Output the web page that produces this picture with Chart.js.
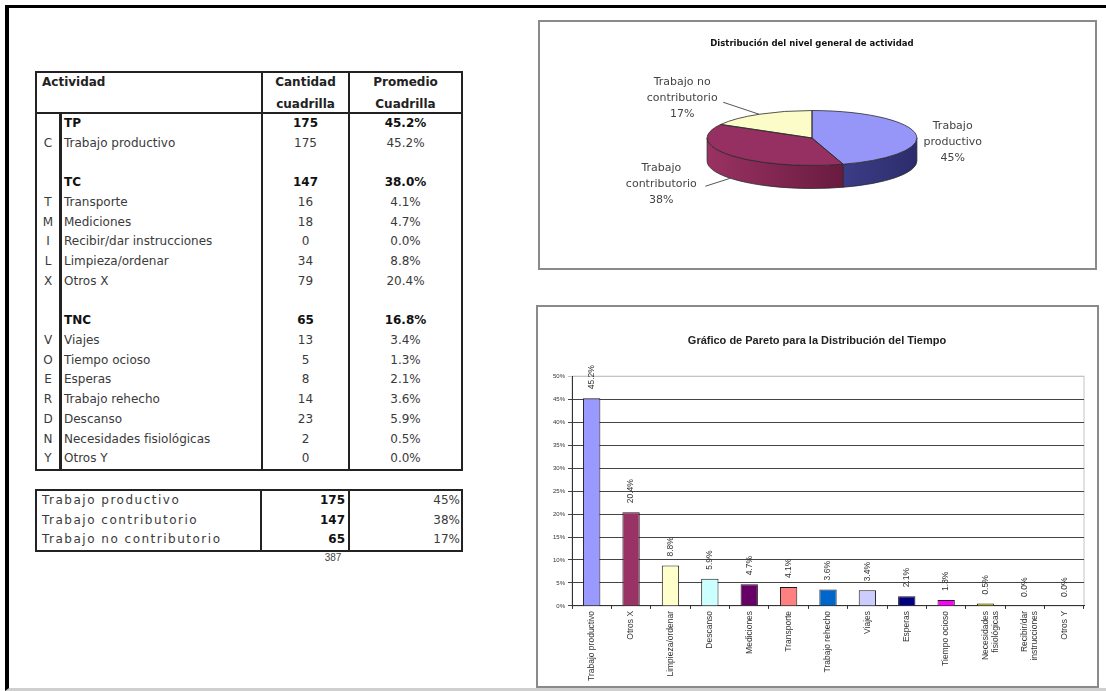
<!DOCTYPE html>
<html lang="es">
<head>
<meta charset="utf-8">
<title>Distribución del tiempo</title>
<script src="https://cdn.jsdelivr.net/npm/chart.js@4.4.1/dist/chart.umd.min.js"></script>
<style>
  html, body { margin: 0; padding: 0; background: #fff; }
  body { width: 1106px; height: 691px; position: relative; overflow: hidden;
         font-family: "DejaVu Sans", Verdana, sans-serif; font-size: 12px; color: #3a3a3a; }
  #marco { position: absolute; left: 5px; top: 5px; width: 1120px; height: 686px; box-sizing: border-box;
           border-top: 3px solid #000; border-left: 4px solid #000; border-bottom: 3px solid #cfcfcf; }
  .caja { position: absolute; box-sizing: border-box; border: 2px solid #8a8a8a; background: #fff; }
  .caja canvas { display: block; }
  .tabla { position: absolute; box-sizing: border-box; border: 2px solid #222; }
  .vl { position: absolute; width: 2px; background: #222; z-index: 2; }
  .cab { position: absolute; left: 0; top: 0; right: 0; height: 39px; border-bottom: 2px solid #222; font-weight: bold; color: #222; line-height: 22px; }
  .cab div { position: absolute; top: -2px; }
  .f { position: absolute; left: 0; right: 0; height: 19.72px; line-height: 19.72px; white-space: nowrap; }
  .f span { position: absolute; top: 0; }
  .f .l { left: 0; width: 22px; text-align: center; }
  .f .a { left: 27px; }
  .f .n { left: 226px; width: 85px; text-align: center; }
  .f .p { left: 313px; width: 111px; text-align: center; }
  .f.b { font-weight: bold; color: #111; }
  .r { position: absolute; left: 0; right: 0; height: 19.5px; line-height: 19.5px; white-space: nowrap; }
  .r span { position: absolute; top: 0; }
  .r .a { left: 5px; letter-spacing: 1.5px; }
  .r .n { left: 226px; width: 82px; text-align: right; font-weight: bold; color: #111; }
  .r .p { left: 313px; width: 110px; text-align: right; }
  #total { position: absolute; left: 318px; top: 552px; width: 30px; text-align: center;
           font: 10px "Liberation Sans", Arial, sans-serif; color: #444; }
</style>
</head>
<body>
<div id="marco"></div>

<div id="tabla" class="tabla" style="left:35px;top:71px;width:428px;height:400px">
  <div class="cab">
    <div style="left:5px">Actividad</div>
    <div style="left:226px;width:85px;text-align:center">Cantidad<br>cuadrilla</div>
    <div style="left:313px;width:111px;text-align:center">Promedio<br>Cuadrilla</div>
  </div>
  <div class="vl" style="left:22px;width:3px;top:41px;height:355px"></div>
  <div class="vl" style="left:224px;top:0;height:396px"></div>
  <div class="vl" style="left:311px;top:0;height:396px"></div>
</div>

<div id="resumen" class="tabla" style="left:35px;top:489px;width:428px;height:62.5px">
  <div class="vl" style="left:223px;top:0;height:58.5px"></div>
  <div class="vl" style="left:311px;top:0;height:58.5px"></div>
</div>
<div id="total">387</div>

<div class="caja" style="left:538px;top:20px;width:559px;height:250px">
  <canvas id="torta" width="555" height="246"></canvas>
</div>
<div class="caja" style="left:536px;top:305px;width:563px;height:383px">
  <canvas id="pareto" width="559" height="379"></canvas>
</div>

<script>
// Tabla de actividades (filas vacías = separadores)
const codigos    = ['', 'C', '', '', 'T', 'M', 'I', 'L', 'X', '', '', 'V', 'O', 'E', 'R', 'D', 'N', 'Y'];
const filas      = ['TP', 'Trabajo productivo', '', 'TC', 'Transporte', 'Mediciones', 'Recibir/dar instrucciones',
                    'Limpieza/ordenar', 'Otros X', '', 'TNC', 'Viajes', 'Tiempo ocioso', 'Esperas',
                    'Trabajo rehecho', 'Descanso', 'Necesidades fisiológicas', 'Otros Y'];
const cantidades = ['175', '175', '', '147', '16', '18', '0', '34', '79', '', '65', '13', '5', '8', '14', '23', '2', '0'];
const promedios  = ['45.2%', '45.2%', '', '38.0%', '4.1%', '4.7%', '0.0%', '8.8%', '20.4%', '', '16.8%',
                    '3.4%', '1.3%', '2.1%', '3.6%', '5.9%', '0.5%', '0.0%'];
const filasTotal = [0, 3, 10];

// Resumen
const tiposTrabajo  = ['Trabajo productivo', 'Trabajo contributorio', 'Trabajo no contributorio'];
const tiposCantidad = [175, 147, 65];
const tiposPct      = [45.2, 38.0, 16.8];

// Torta
const tortaEtiquetas = [['Trabajo', 'productivo', '45%'], ['Trabajo', 'contributorio', '38%'], ['Trabajo no', 'contributorio', '17%']];
const tortaColores   = ['#9696f8', '#962f62', '#fcfcc8'];
const tortaLaterales = [['#5a5ab8', '#2c2c6c'], ['#9a3262', '#4e0f2c'], ['#d8d8a0', '#a8a868']];

// Pareto
const actividades = ['Trabajo productivo', 'Otros X', 'Limpieza/ordenar', 'Descanso', 'Mediciones', 'Transporte',
                     'Trabajo rehecho', 'Viajes', 'Esperas', 'Tiempo ocioso', ['Necesidades', 'fisiológicas'],
                     ['Recibir/dar', 'instrucciones'], 'Otros Y'];
const porcentajes = [45.2, 20.4, 8.8, 5.9, 4.7, 4.1, 3.6, 3.4, 2.1, 1.3, 0.5, 0.0, 0.0];
const coloresBarras = ['#9999FF', '#993366', '#FFFFCC', '#CCFFFF', '#660066', '#FF8080',
                       '#0066CC', '#CCCCFF', '#000080', '#FF00FF', '#CCCC00', '#808080', '#808080'];

// 1. TABLAS
const tabla = document.getElementById('tabla');
filas.forEach((txt, i) => {
    const f = document.createElement('div');
    f.className = 'f' + (filasTotal.includes(i) ? ' b' : '');
    f.style.top = (41 + i * 19.72) + 'px';
    f.innerHTML = `<span class="l">${codigos[i]}</span><span class="a">${txt}</span>` +
                  `<span class="n">${cantidades[i]}</span><span class="p">${promedios[i]}</span>`;
    tabla.appendChild(f);
});
const resumen = document.getElementById('resumen');
tiposTrabajo.forEach((txt, i) => {
    const r = document.createElement('div');
    r.className = 'r';
    r.style.top = (i * 19.5) + 'px';
    r.innerHTML = `<span class="a">${txt}</span><span class="n">${tiposCantidad[i]}</span>` +
                  `<span class="p">${Math.round(tiposPct[i])}%</span>`;
    resumen.appendChild(r);
});

// 2. TORTA 3D (se aplana el pie de Chart.js y se le agrega el canto)
const torta3D = {
    id: 'torta3D',
    beforeDatasetsDraw(chart, args, opts) {
        const ctx = chart.ctx;
        const arcs = chart.getDatasetMeta(0).data;
        const cx = arcs[0].x, cy = arcs[0].y, r = arcs[0].outerRadius;
        const ry = r * opts.inclinacion, h = opts.grosor, cyT = opts.centroY;

        arcs.forEach((arc, i) => {
            const a0 = Math.max(arc.startAngle, 0), a1 = Math.min(arc.endAngle, Math.PI);
            if (a1 <= a0) return;
            const g = ctx.createLinearGradient(cx - r, 0, cx + r, 0);
            g.addColorStop(0, tortaLaterales[i][0]);
            g.addColorStop(1, tortaLaterales[i][1]);
            ctx.beginPath();
            ctx.ellipse(cx, cyT, r, ry, 0, a0, a1);
            ctx.ellipse(cx, cyT + h, r, ry, 0, a1, a0, true);
            ctx.closePath();
            ctx.fillStyle = g;
            ctx.fill();
            ctx.strokeStyle = '#2a2a2a';
            ctx.lineWidth = 0.8;
            ctx.stroke();
        });

        ctx.save();
        ctx.translate(cx, cyT);
        ctx.scale(1, opts.inclinacion);
        ctx.translate(-cx, -cy);
        arcs.forEach(arc => {
            ctx.beginPath();
            ctx.moveTo(cx, cy);
            ctx.arc(cx, cy, r, arc.startAngle, arc.endAngle);
            ctx.closePath();
            ctx.fillStyle = arc.options.backgroundColor;
            ctx.fill();
        });
        ctx.beginPath();
        arcs.forEach(arc => {
            ctx.moveTo(cx, cy);
            ctx.arc(cx, cy, r, arc.startAngle, arc.endAngle);
            ctx.closePath();
        });
        ctx.restore();
        ctx.strokeStyle = '#2a2a2a';
        ctx.lineWidth = 0.8;
        ctx.stroke();
        return false;
    },
    afterDraw(chart, args, opts) {
        const ctx = chart.ctx;
        const arcs = chart.getDatasetMeta(0).data;
        const cx = arcs[0].x, r = arcs[0].outerRadius;
        const ry = r * opts.inclinacion, cyT = opts.centroY;
        ctx.save();
        ctx.font = '11px "DejaVu Sans"';
        ctx.fillStyle = '#444';
        ctx.textAlign = 'center';
        ctx.textBaseline = 'middle';
        arcs.forEach((arc, i) => {
            const mid = (arc.startAngle + arc.endAngle) / 2;
            const ax = cx + r * Math.cos(mid), ay = cyT + ry * Math.sin(mid);
            const [dx, dy] = opts.desplazamiento[i];
            const lx = ax + dx, ly = ay + dy;
            tortaEtiquetas[i].forEach((t, j) => ctx.fillText(t, lx, ly + (j - 1) * 16));
            const guia = opts.guias[i];
            if (guia) {
                ctx.beginPath();
                ctx.moveTo(lx + guia[0], ly + guia[1]);
                ctx.lineTo(ax, ay + guia[2]);
                ctx.strokeStyle = '#555';
                ctx.lineWidth = 1;
                ctx.stroke();
            }
        });
        ctx.restore();
    }
};

new Chart(document.getElementById('torta'), {
    type: 'pie',
    data: {
        labels: tiposTrabajo,
        datasets: [{ data: tiposPct, backgroundColor: tortaColores, borderWidth: 0 }]
    },
    options: {
        responsive: false,
        animation: false,
        layout: { padding: { left: 167, right: 178, top: 0, bottom: 0 } },
        plugins: {
            legend: { display: false },
            tooltip: { enabled: false },
            title: {
                display: true,
                text: 'Distribución del nivel general de actividad',
                color: '#111',
                font: { family: 'DejaVu Sans', size: 8.5, weight: 'bold' },
                padding: { top: 17, bottom: 9 }
            },
            torta3D: {
                inclinacion: 0.262, grosor: 23, centroY: 116,
                desplazamiento: [[37, 8], [-69, 29], [-77, -16]],
                guias: [null, [44, 2, 23], [41, 4, 0]]
            }
        }
    },
    plugins: [torta3D]
});

// 3. PARETO
const etiquetasValor = {
    id: 'etiquetasValor',
    afterDatasetsDraw(chart) {
        const ctx = chart.ctx;
        ctx.save();
        ctx.font = '8.5px "Liberation Sans"';
        ctx.fillStyle = '#333';
        ctx.textAlign = 'left';
        ctx.textBaseline = 'middle';
        chart.getDatasetMeta(0).data.forEach((bar, i) => {
            ctx.save();
            ctx.translate(bar.x, bar.y - 9);
            ctx.rotate(-Math.PI / 2);
            ctx.fillText(porcentajes[i].toFixed(1) + '%', 0, 0);
            ctx.restore();
        });
        ctx.restore();
    }
};
const bordeArea = {
    id: 'bordeArea',
    beforeDraw(chart) {
        const { ctx, chartArea: a } = chart;
        ctx.save();
        ctx.strokeStyle = '#c4c4c4';
        ctx.lineWidth = 1;
        ctx.strokeRect(a.left, a.top, a.right - a.left, a.bottom - a.top);
        ctx.restore();
    }
};

new Chart(document.getElementById('pareto'), {
    type: 'bar',
    data: {
        labels: actividades,
        datasets: [{
            data: porcentajes,
            backgroundColor: coloresBarras,
            borderColor: '#1a1a1a',
            borderWidth: 1,
            barPercentage: 0.44,
            categoryPercentage: 1
        }]
    },
    options: {
        responsive: false,
        animation: false,
        layout: { padding: { left: 12, right: 13, top: 0, bottom: 3 } },
        plugins: {
            legend: { display: false },
            tooltip: { enabled: false },
            title: {
                display: true,
                text: 'Gráfico de Pareto para la Distribución del Tiempo',
                color: '#222',
                font: { family: 'Liberation Sans', size: 11, weight: 'bold' },
                padding: { top: 27, bottom: 29 }
            }
        },
        scales: {
            x: {
                grid: { drawOnChartArea: false, offset: true, tickLength: 3, color: '#333' },
                border: { color: '#333' },
                ticks: {
                    minRotation: 90, maxRotation: 90, autoSkip: false, padding: 2,
                    color: '#333', font: { family: 'Liberation Sans', size: 8.5 }
                }
            },
            y: {
                min: 0, max: 50,
                grid: { color: (c) => c.tick.value === 50 ? '#c4c4c4' : '#444', tickLength: 4 },
                border: { color: '#333' },
                ticks: {
                    stepSize: 5, padding: 3, color: '#333',
                    font: { family: 'Liberation Sans', size: 6 },
                    callback: (v) => v + '%'
                }
            }
        }
    },
    plugins: [etiquetasValor, bordeArea]
});
</script>
</body>
</html>
